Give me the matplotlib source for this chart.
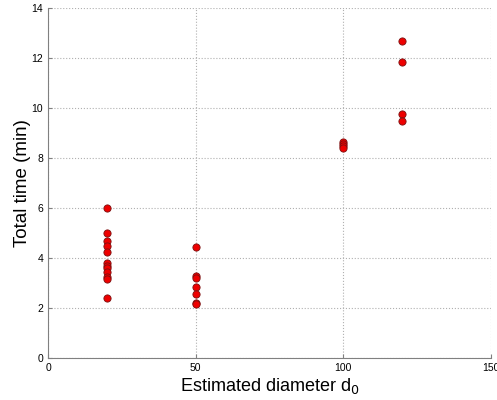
import numpy as np
import matplotlib.pyplot as plt

plt.rcParams['font.family'] = ['Liberation Sans', 'DejaVu Sans']

# estimated diameter groups and the measured total times (min)
d_20 = [6.0, 5.0, 4.7, 4.5, 4.25, 3.8, 3.7, 3.6, 3.45, 3.25, 3.15, 2.4]
d_50 = [4.43, 3.3, 3.2, 2.83, 2.56, 2.2, 2.15]
d_100 = [8.65, 8.55, 8.47, 8.4]
d_120 = [12.68, 11.85, 9.76, 9.47]

groups = {20: d_20, 50: d_50, 100: d_100, 120: d_120}

fig = plt.figure(figsize=(4.97, 4.0), dpi=100)
ax = fig.add_axes([48 / 497, 42 / 400, 443 / 497, 350 / 400])

for d, times in groups.items():
    ax.plot(np.full(len(times), d), times, 'o', color='#ee0000',
            markeredgecolor='#7a1010', markeredgewidth=0.6, markersize=5.2)

ax.set_xlim(0, 150)
ax.set_ylim(0, 14)
ax.set_xticks([0, 50, 100, 150])
ax.set_yticks(range(0, 15, 2))
ax.grid(True, linestyle=':', color='#b0b0b0', linewidth=0.8)
ax.set_axisbelow(True)

for s in ['top', 'right']:
    ax.spines[s].set_visible(False)
for s in ['left', 'bottom']:
    ax.spines[s].set_color('#808080')

ax.tick_params(direction='in', length=3, labelsize=7.5, colors='#808080',
               labelcolor='black')
ax.set_xlabel('Estimated diameter d$_0$', fontsize=13, labelpad=2)
ax.set_ylabel('Total time (min)', fontsize=13.5, labelpad=0)

fig.savefig('out.png', dpi=100)
